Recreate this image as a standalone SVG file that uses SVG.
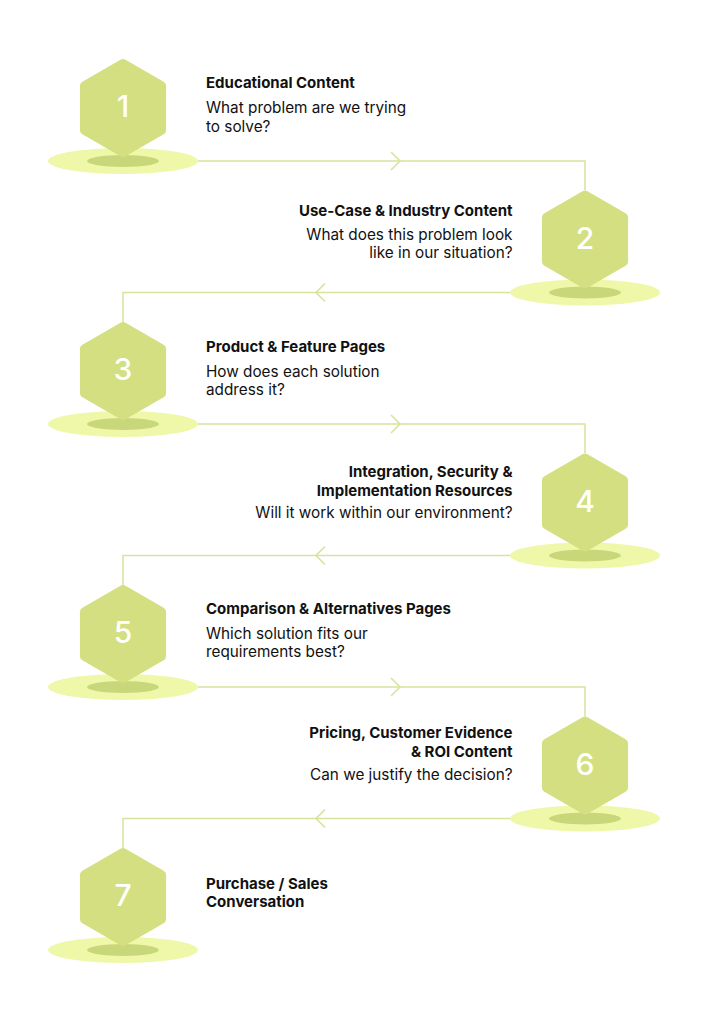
<svg xmlns="http://www.w3.org/2000/svg" xmlns:xlink="http://www.w3.org/1999/xlink" width="705" height="1024" viewBox="0 0 705 1024">
<style>
.bg{fill:#ffffff}
.outer{fill:#eef8a8}
.inner{fill:#c9d77b}
.hex{fill:#d3df80;stroke:#d3df80;stroke-width:10;stroke-linejoin:round}
.num{font-family:Inter,"Liberation Sans",sans-serif;font-size:30px;font-weight:500;fill:#ffffff;text-anchor:middle}
.title{font-family:Inter,"Liberation Sans",sans-serif;font-size:15px;font-weight:700;fill:#111111}
.body{font-family:Inter,"Liberation Sans",sans-serif;font-size:15.3px;font-weight:400;fill:#111111}
.end{text-anchor:end}
.conn{fill:none;stroke:#d6e49c;stroke-width:1.5}
.chev{fill:none;stroke:#d6e49c;stroke-width:1.6;stroke-linejoin:miter}
</style>
<defs>
<g id="pin">
<ellipse class="outer" cx="0" cy="0" rx="75" ry="13"/>
<ellipse class="inner" cx="0" cy="0" rx="36" ry="6"/>
<polygon class="hex" points="0,-97 38.1,-75 38.1,-31 0,-9 -38.1,-31 -38.1,-75"/>
</g>
</defs>
<rect class="bg" x="0" y="0" width="705" height="1024"/>
<g id="connectors">
<path class="conn" d="M198,161 H585 V190"/>
<path class="chev" d="M391,152 L400,161 L391,170"/>
<path class="conn" d="M511,292.5 H123 V322"/>
<path class="chev" d="M325,283.5 L316,292.5 L325,301.5"/>
<path class="conn" d="M198,424 H585 V453"/>
<path class="chev" d="M391,415 L400,424 L391,433"/>
<path class="conn" d="M511,555.5 H123 V585"/>
<path class="chev" d="M325,546.5 L316,555.5 L325,564.5"/>
<path class="conn" d="M198,687 H585 V716.5"/>
<path class="chev" d="M391,678 L400,687 L391,696"/>
<path class="conn" d="M511,818.5 H123 V848"/>
<path class="chev" d="M325,809.5 L316,818.5 L325,827.5"/>
</g>
<g id="node1">
<use xlink:href="#pin" href="#pin" transform="translate(123,161)"/>
<text class="num" x="123" y="117">1</text>
<text class="title" x="206" y="88">Educational Content</text>
<text class="body" x="206" y="113">What problem are we trying</text>
<text class="body" x="206" y="131.5">to solve?</text>
</g>
<g id="node2">
<use xlink:href="#pin" href="#pin" transform="translate(585,292.5)"/>
<text class="num" x="585" y="248.5">2</text>
<text class="title end" x="512.5" y="216">Use-Case &amp; Industry Content</text>
<text class="body end" x="512.5" y="239.5">What does this problem look</text>
<text class="body end" x="512.5" y="258">like in our situation?</text>
</g>
<g id="node3">
<use xlink:href="#pin" href="#pin" transform="translate(123,424)"/>
<text class="num" x="123" y="380">3</text>
<text class="title" x="206" y="351.7">Product &amp; Feature Pages</text>
<text class="body" x="206" y="376.7">How does each solution</text>
<text class="body" x="206" y="395">address it?</text>
</g>
<g id="node4">
<use xlink:href="#pin" href="#pin" transform="translate(585,555.5)"/>
<text class="num" x="585" y="511.5">4</text>
<text class="title end" x="512.5" y="476.7">Integration, Security &amp;</text>
<text class="title end" x="512.5" y="495.7">Implementation Resources</text>
<text class="body end" x="512.5" y="518.3">Will it work within our environment?</text>
</g>
<g id="node5">
<use xlink:href="#pin" href="#pin" transform="translate(123,687)"/>
<text class="num" x="123" y="643">5</text>
<text class="title" x="206" y="614.3">Comparison &amp; Alternatives Pages</text>
<text class="body" x="206" y="639.3">Which solution fits our</text>
<text class="body" x="206" y="657.3">requirements best?</text>
</g>
<g id="node6">
<use xlink:href="#pin" href="#pin" transform="translate(585,818.5)"/>
<text class="num" x="585" y="774.5">6</text>
<text class="title end" x="512.5" y="737.7">Pricing, Customer Evidence</text>
<text class="title end" x="512.5" y="756.7">&amp; ROI Content</text>
<text class="body end" x="512.5" y="780">Can we justify the decision?</text>
</g>
<g id="node7">
<use xlink:href="#pin" href="#pin" transform="translate(123,950)"/>
<text class="num" x="123" y="906">7</text>
<text class="title" x="206" y="889">Purchase / Sales</text>
<text class="title" x="206" y="907.3">Conversation</text>
</g>
</svg>
